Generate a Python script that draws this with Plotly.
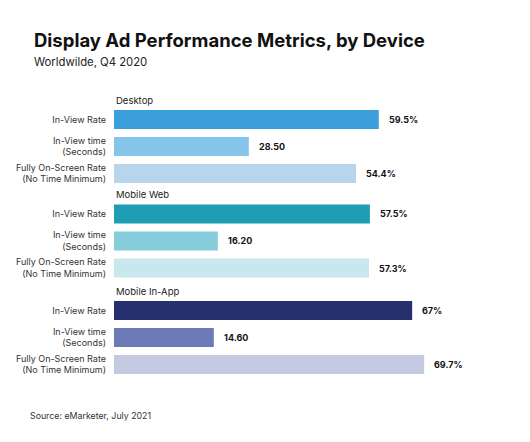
import plotly.graph_objects as go

# ---- data ----
groups = ["Desktop", "Mobile Web", "Mobile In-App"]
metric_labels = ["In-View Rate", "In-View time<br>(Seconds)", "Fully On-Screen Rate<br>(No Time Minimum)"]
in_view_rate = [59.5, 57.5, 67.0]          # %
in_view_time = [28.50, 16.20, 14.60]       # seconds
fully_on_screen = [54.4, 57.3, 69.7]       # %
in_view_rate_text = ["59.5%", "57.5%", "67%"]
in_view_time_text = ["28.50", "16.20", "14.60"]
fully_on_screen_text = ["54.4%", "57.3%", "69.7%"]

colors = [
    ["#3A9FDA", "#86C5EA", "#B8D5EE"],
    ["#1E9DB5", "#86CCDB", "#C9E8EE"],
    ["#27306E", "#6C7AB7", "#C5CAE3"],
]

W, H = 530, 442
FONT = "Inter"
SEC_MIN = -25  # seconds axis starts below zero

fig = go.Figure()

row_domains = [(106, 187), (200.5, 281.5), (297, 378)]
annotations = []
for i, g in enumerate(groups):
    ya = "y" if i == 0 else f"y{i+1}"
    yname = "yaxis" if i == 0 else f"yaxis{i+1}"
    fig.add_trace(go.Bar(
        x=[in_view_rate[i], fully_on_screen[i]],
        y=[metric_labels[0], metric_labels[2]],
        orientation="h", xaxis="x", yaxis=ya,
        marker=dict(color=[colors[i][0], colors[i][2]], line=dict(width=0)),
        hoverinfo="skip", showlegend=False,
    ))
    fig.add_trace(go.Bar(
        x=[in_view_time[i] - SEC_MIN], base=[SEC_MIN],
        y=[metric_labels[1]],
        orientation="h", xaxis="x2", yaxis=ya,
        marker=dict(color=[colors[i][1]], line=dict(width=0)),
        hoverinfo="skip", showlegend=False,
    ))
    top, bot = row_domains[i]
    fig.layout[yname] = dict(
        domain=[1 - bot / H, 1 - top / H],
        categoryorder="array", categoryarray=metric_labels,
        autorange="reversed", anchor="x",
        showgrid=False, zeroline=False, showline=False,
        ticks="", ticklabelstandoff=7,
        tickfont=dict(family=FONT, size=9, color="#333333"),
        fixedrange=True,
    )
    annotations.append(dict(
        x=0, xref="x domain", y=1, yref=f"{ya} domain",
        xanchor="left", yanchor="bottom", yshift=-2,
        text=g, showarrow=False,
        font=dict(family=FONT, size=9.5, color="#222222"),
    ))
    for val, txt, xr, cat in [
        (in_view_rate[i], in_view_rate_text[i], "x", metric_labels[0]),
        (in_view_time[i], in_view_time_text[i], "x2", metric_labels[1]),
        (fully_on_screen[i], fully_on_screen_text[i], "x", metric_labels[2]),
    ]:
        annotations.append(dict(
            x=val, xref=xr, y=cat, yref=ya,
            xanchor="left", yanchor="middle", xshift=8,
            text=f"<b>{txt}</b>", showarrow=False,
            font=dict(family=FONT, size=9, color="#111111"),
        ))

annotations += [
    dict(x=32 / W, y=1 - 40 / H, xref="paper", yref="paper", xanchor="left", yanchor="middle",
         text="<b>Display Ad Performance Metrics, by Device</b>", showarrow=False,
         font=dict(family=FONT, size=18.5, color="#111111")),
    dict(x=32 / W, y=1 - 62 / H, xref="paper", yref="paper", xanchor="left", yanchor="middle",
         text="Worldwilde, Q4 2020", showarrow=False,
         font=dict(family=FONT, size=11.3, color="#222222")),
    dict(x=28 / W, y=1 - 415 / H, xref="paper", yref="paper", xanchor="left", yanchor="middle",
         text="Source: eMarketer, July 2021", showarrow=False,
         font=dict(family=FONT, size=8.8, color="#333333")),
]

x0, x1 = 114, 491
fig.update_layout(
    width=W, height=H,
    margin=dict(l=0, r=0, t=0, b=0),
    paper_bgcolor="white", plot_bgcolor="white",
    barmode="overlay", bargap=0.3,
    xaxis=dict(domain=[x0 / W, x1 / W], range=[0, (x1 - x0) / 4.45],
               visible=False, fixedrange=True, anchor="y3"),
    xaxis2=dict(domain=[x0 / W, x1 / W], overlaying="x",
                range=[SEC_MIN, SEC_MIN + (x1 - x0) / 2.52],
                visible=False, fixedrange=True),
    annotations=annotations,
    showlegend=False,
)

fig.write_html("out.html", config={"displayModeBar": False},
               post_script="document.body.style.margin='0';")
